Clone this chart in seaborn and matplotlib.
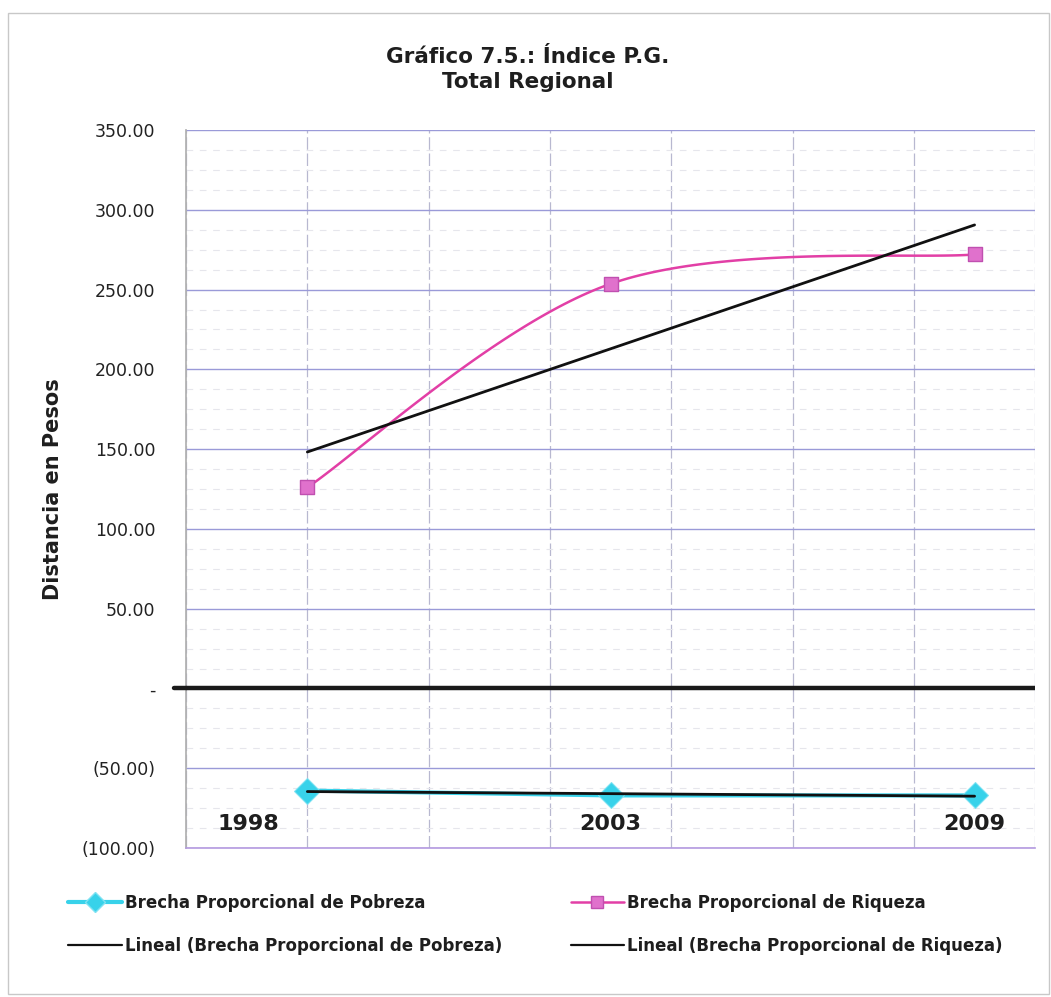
import numpy as np
import pandas as pd
import matplotlib
matplotlib.use("Agg")
import matplotlib.pyplot as plt
from matplotlib.ticker import FuncFormatter, MultipleLocator
from matplotlib.lines import Line2D
from matplotlib.patches import Rectangle
import seaborn as sns

# Data
years = [1998, 2003, 2009]
pobreza = [-64.0, -67.0, -67.0]
riqueza = [126.0, 253.6, 272.0]

title = "Gráfico 7.5.: Índice P.G.\nTotal Regional"
ylabel = "Distancia en Pesos"
lbl_pob = "Brecha Proporcional de Pobreza"
lbl_riq = "Brecha Proporcional de Riqueza"
lbl_lin_pob = "Lineal (Brecha Proporcional de Pobreza)"
lbl_lin_riq = "Lineal (Brecha Proporcional de Riqueza)"

CYAN = "#38d2ea"
MAGENTA = "#e23fa6"
PINK_MK = "#e071cc"

sns.set_theme(style="white")
plt.rcParams["font.family"] = ["DejaVu Sans"]


def smooth_curve(x, y, n=60):
    # Excel-style smoothed line: cubic bezier with catmull-rom control points
    p = np.column_stack([x, y]).astype(float)
    pts = np.vstack([p[0], p, p[-1]])
    out = []
    for i in range(1, len(pts) - 2):
        p0, p1, p2, p3 = pts[i - 1], pts[i], pts[i + 1], pts[i + 2]
        c1 = p1 + (p2 - p0) / 6
        c2 = p2 - (p3 - p1) / 6
        t = np.linspace(0, 1, n)[:, None]
        seg = ((1 - t) ** 3) * p1 + 3 * ((1 - t) ** 2) * t * c1 + 3 * (1 - t) * t ** 2 * c2 + t ** 3 * p2
        out.append(seg)
    c = np.vstack(out)
    return c[:, 0], c[:, 1]


fig = plt.figure(figsize=(10.51, 9.97), dpi=100)
ax = fig.add_axes([0.177, 0.1494, 0.808, 0.7202])

# outer chart border
fig.patches.append(Rectangle((0.008, 0.003), 0.99, 0.984, transform=fig.transFigure,
                             fill=False, edgecolor="#c8c8c8", lw=1.0))

ax.set_xlim(1996, 2010)
ax.set_ylim(-100, 350)
ax.yaxis.set_major_locator(MultipleLocator(50))
ax.yaxis.set_minor_locator(MultipleLocator(12.5))
ax.xaxis.set_major_locator(MultipleLocator(2))


def fmt(v, pos):
    if abs(v) < 1e-9:
        return "-"
    if v < 0:
        return f"({abs(v):.2f})"
    return f"{v:.2f}"


ax.yaxis.set_major_formatter(FuncFormatter(fmt))
ax.grid(axis="y", which="major", color="#9a9ad8", lw=1.0, ls="-")
ax.grid(axis="y", which="minor", color="#e6e6ec", lw=0.8, ls=(0, (6, 6)))
ax.grid(axis="x", which="major", color="#b8b8d0", lw=0.9, ls=(0, (10, 3)))
ax.set_xticklabels([])
ax.tick_params(axis="x", length=0)
ax.tick_params(axis="y", length=0, labelsize=12.5, pad=22, labelcolor="#222222")
for s in ["top", "right"]:
    ax.spines[s].set_visible(False)
ax.spines["left"].set_color("#b0b0b0")
ax.spines["bottom"].set_color("#b49ae0")
ax.spines["bottom"].set_linewidth(1.2)

# zero line
ax.axhline(0, color="#1a1a1a", lw=3.2, zorder=3)
ax.plot([1995.8, 1996], [0, 0], color="#1a1a1a", lw=3.2, clip_on=False, zorder=3)

df = pd.DataFrame({"year": years, "pobreza": pobreza, "riqueza": riqueza})

# Pobreza series
sns.lineplot(data=df, x="year", y="pobreza", ax=ax, color=CYAN, lw=3,
             marker="D", markersize=13, markeredgecolor="#7fe2f2", zorder=4)

# Riqueza smoothed series
sx, sy = smooth_curve(years, riqueza)
ax.plot(sx, sy, color=MAGENTA, lw=1.8, zorder=4)
sns.scatterplot(data=df, x="year", y="riqueza", ax=ax, marker="s", s=110,
                color=PINK_MK, edgecolor="#c050b0", linewidth=1, zorder=5)

# Linear trend lines
for yv in [pobreza, riqueza]:
    m, b = np.polyfit(years, yv, 1)
    xs = np.array([years[0], years[-1]])
    ax.plot(xs, m * xs + b, color="#111111", lw=2.0, zorder=4.5)

# year labels inside the plot
for yr in years:
    ax.text(yr - 0.97 if yr == years[0] else yr, -85, str(yr), ha="center", va="center",
            fontsize=16, fontweight="bold", color="#1e1e1e")

ax.set_xlabel("")
ax.set_ylabel(ylabel, fontsize=15, fontweight="bold", labelpad=8, color="#1e1e1e")
ax.yaxis.set_label_coords(-0.145, 0.5)

fig.text(0.502, 0.93, title, ha="center", va="center", fontsize=15.5,
         fontweight="bold", color="#1e1e1e", linespacing=1.3)

handles = [
    Line2D([], [], color=CYAN, lw=3, marker="D", markersize=10, markeredgecolor="#7fe2f2"),
    Line2D([], [], color="#111111", lw=1.6),
    Line2D([], [], color=MAGENTA, lw=1.8, marker="s", markersize=9, markerfacecolor=PINK_MK,
           markeredgecolor="#c050b0"),
    Line2D([], [], color="#111111", lw=1.6),
]
labels = [lbl_pob, lbl_lin_pob, lbl_riq, lbl_lin_riq]
leg = fig.legend(handles, labels, ncol=2, loc="center", bbox_to_anchor=(0.5095, 0.073),
                 frameon=False, prop={"weight": "bold", "size": 12}, handlelength=3.2,
                 handletextpad=0.2, columnspacing=4.1, labelspacing=1.5)
for t in leg.get_texts():
    t.set_color("#1e1e1e")

fig.savefig("out.png", dpi=100)
